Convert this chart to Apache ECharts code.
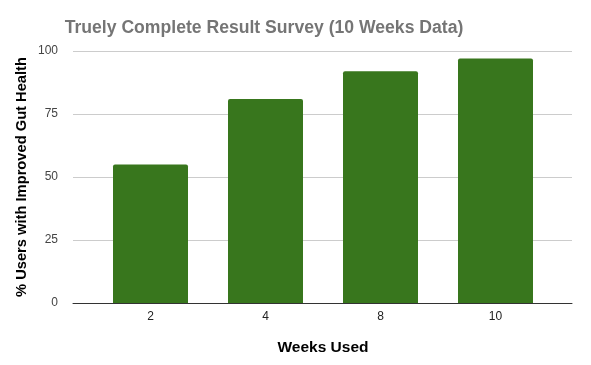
<!DOCTYPE html>
<html><head><meta charset="utf-8">
<script src="https://cdn.jsdelivr.net/npm/echarts@6/dist/echarts.min.js"></script>
<style>html,body{margin:0;padding:0;background:#fff}#c{width:591px;height:365px}</style>
</head><body><div id="c"></div>
<script>
const categories = ['2', '4', '8', '10'];
const values = [55, 81, 92, 97];
const yTicks = [0, 25, 50, 75, 100];
const titleText = 'Truely Complete Result Survey (10 Weeks Data)';
const xName = 'Weeks Used';
const yName = '% Users with Improved Gut Health';

const chart = echarts.init(document.getElementById('c'), null, {renderer: 'canvas'});
const font = 'Liberation Sans, Arial, sans-serif';
chart.setOption({
  animation: false,
  textStyle: {fontFamily: font},
  title: {text: titleText, left: 263, top: 14, textAlign: 'center',
    textStyle: {fontFamily: font, fontSize: 17.6, fontWeight: 'bold', color: '#757575'}},
  graphic: [
    {type: 'text', style: {text: xName, font: 'bold 15.5px Liberation Sans, Arial', fill: '#000', align: 'center', verticalAlign: 'middle'}, x: 323, y: 348},
    {type: 'text', rotation: Math.PI / 2, style: {text: yName, font: 'bold 14.7px Liberation Sans, Arial', fill: '#000', align: 'center', verticalAlign: 'middle'}, x: 22, y: 177}
  ],
  grid: [
    {left: 73, right: 19, top: 51, bottom: 62, containLabel: false},
    {left: 93, right: 38, top: 51, bottom: 62, containLabel: false}
  ],
  xAxis: [
    {gridIndex: 0, type: 'value', min: 0, max: 1, axisLine: {show: true, lineStyle: {color: '#333', width: 1}},
      axisTick: {show: false}, axisLabel: {show: false}, splitLine: {show: false}},
    {gridIndex: 1, type: 'category', data: categories, axisLine: {show: false}, axisTick: {show: false},
      axisLabel: {color: '#222', fontSize: 12, fontFamily: font, margin: 8}}
  ],
  yAxis: [
    {gridIndex: 0, type: 'value', min: yTicks[0], max: yTicks[yTicks.length - 1], interval: 25,
      axisLine: {show: false}, axisTick: {show: false},
      axisLabel: {color: '#444', fontSize: 12, fontFamily: font, margin: 15},
      splitLine: {lineStyle: {color: '#ccc', width: 1}}},
    {gridIndex: 1, type: 'value', min: yTicks[0], max: yTicks[yTicks.length - 1], show: false, splitLine: {show: false}}
  ],
  series: [{
    type: 'bar', xAxisIndex: 1, yAxisIndex: 1, data: values, barWidth: 75,
    itemStyle: {color: '#38761d', borderRadius: [2, 2, 0, 0]}
  }]
});
chart.setOption({title: {left: 259}});
</script></body></html>
